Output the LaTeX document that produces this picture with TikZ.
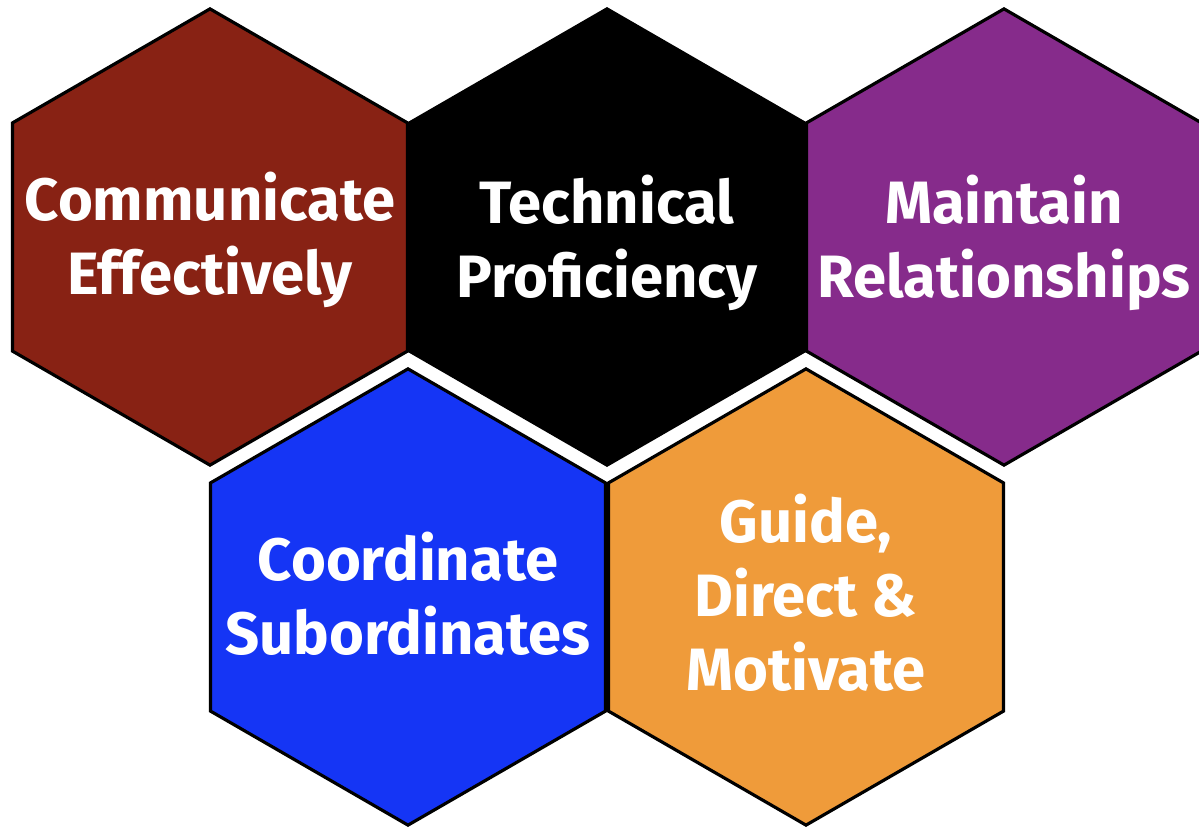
\documentclass[tikz,border=0pt]{standalone}
\usepackage{fontspec}
\setmainfont{Fira Sans}
\usetikzlibrary{shapes.geometric}
\definecolor{hexbrown}{HTML}{882214}
\definecolor{hexpurple}{HTML}{862B8B}
\definecolor{hexblue}{HTML}{1535F5}
\definecolor{hexorange}{HTML}{EF9B3A}
\begin{document}
\begin{tikzpicture}[
                x=0.01cm, y=-0.01cm,
                hexcell/.style={regular polygon, regular polygon sides=6, shape border rotate=30,
                    minimum size=4.56cm, inner sep=0pt, outer sep=0pt, draw=black, line width=0.9pt},
                hextext/.style={text=white, align=center, font=\bfseries\fontsize{17}{21}\selectfont},
            ]
                \useasboundingbox (0, 0) rectangle (1199, 827);
                \node[hexcell, fill=hexbrown] (comm) at (210, 237) {};
                \node[hexcell, fill=black] (tech) at (607, 237) {};
                \node[hexcell, fill=hexpurple] (maint) at (1004, 237) {};
                \node[hexcell, fill=hexblue] (coord) at (408, 597) {};
                \node[hexcell, fill=hexorange] (guide) at (806, 597) {};
                \node[hextext] (commtext) at (210, 240) {Communicate\\Effectively};
                \node[hextext] (techtext) at (607, 243) {Technical\\Proficiency};
                \node[hextext] (mainttext) at (1004, 243) {Maintain\\Relationships};
                \node[hextext] (coordtext) at (408, 594) {Coordinate\\Subordinates};
                \node[hextext] (guidetext) at (806, 593) {Guide,\\Direct \&\\Motivate};
            \end{tikzpicture}
\end{document}
